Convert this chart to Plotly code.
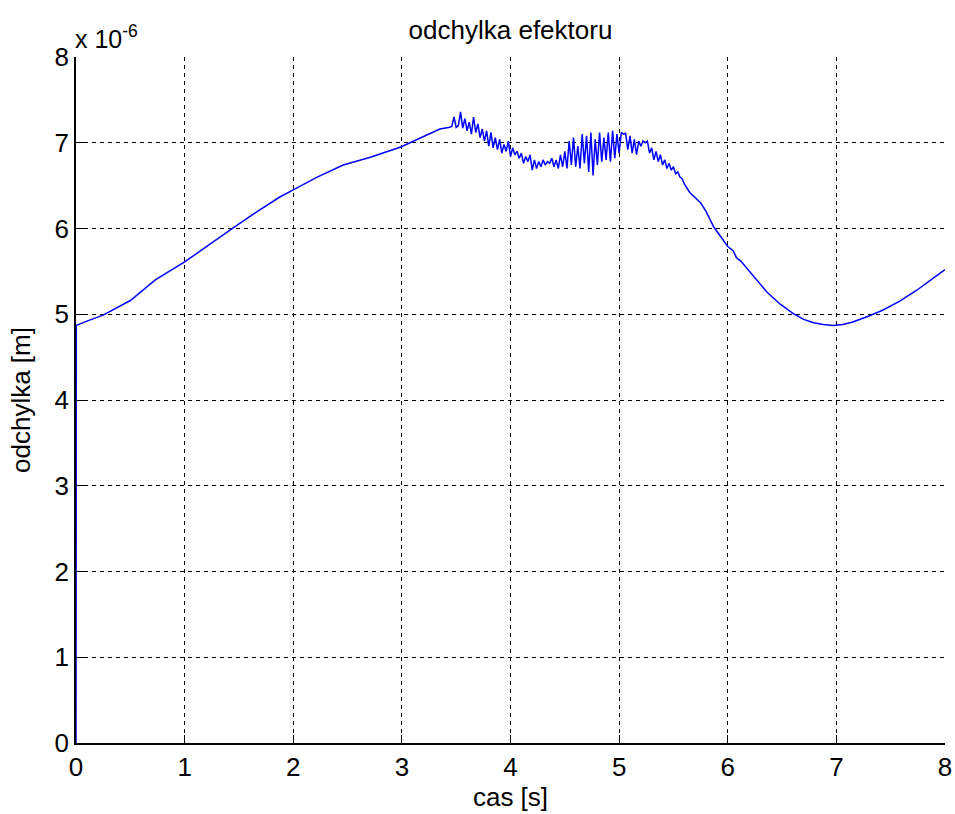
import plotly.graph_objects as go

# time [s] and deviation [x 1e-6 m]
cas_smooth_start = [0.0, 0.003, 0.10, 0.25, 0.50, 0.73, 1.00, 1.23, 1.45, 1.66, 1.88,
                    2.00, 2.22, 2.46, 2.71, 2.99, 3.20, 3.35, 3.44]
odch_smooth_start = [0.0, 4.87, 4.92, 4.99, 5.16, 5.40, 5.61, 5.82, 6.01, 6.19, 6.37,
                     6.45, 6.60, 6.74, 6.83, 6.95, 7.07, 7.16, 7.18]

cas_noisy = [3.46, 3.48, 3.50, 3.52, 3.54, 3.56, 3.58, 3.60, 3.62, 3.64, 3.66, 3.68,
             3.70, 3.72, 3.74, 3.76, 3.78, 3.80, 3.82, 3.84, 3.86, 3.88, 3.90, 3.92,
             3.94, 3.96, 3.98, 4.00, 4.02, 4.04, 4.06, 4.08, 4.10, 4.12, 4.14, 4.16,
             4.18, 4.20, 4.22, 4.24, 4.26, 4.28, 4.30, 4.32, 4.34, 4.36, 4.38, 4.40,
             4.42, 4.44, 4.46, 4.48, 4.50, 4.52, 4.54, 4.56, 4.58, 4.60, 4.62, 4.64,
             4.66, 4.68, 4.70, 4.72, 4.74, 4.76, 4.78, 4.80, 4.82, 4.84, 4.86, 4.88,
             4.90, 4.92, 4.94, 4.96, 4.98, 5.00, 5.02, 5.04, 5.06, 5.08, 5.10, 5.12,
             5.14, 5.16, 5.18, 5.20, 5.22, 5.24, 5.26, 5.28, 5.30, 5.32, 5.34, 5.36,
             5.38, 5.40, 5.42, 5.44, 5.46, 5.48, 5.50, 5.52, 5.54, 5.56, 5.58, 5.60]
odch_noisy = [7.19, 7.30, 7.18, 7.20, 7.36, 7.17, 7.28, 7.14, 7.24, 7.10, 7.30, 7.12,
              7.22, 7.06, 7.16, 7.02, 7.14, 6.96, 7.12, 6.94, 7.06, 6.92, 7.04, 6.88,
              6.98, 6.90, 7.02, 6.84, 6.94, 6.86, 6.90, 6.82, 6.88, 6.76, 6.84, 6.78,
              6.86, 6.68, 6.80, 6.70, 6.78, 6.72, 6.80, 6.74, 6.78, 6.76, 6.82, 6.72,
              6.80, 6.70, 6.86, 6.72, 6.90, 6.70, 7.02, 6.74, 7.06, 6.72, 6.96, 6.70,
              7.10, 6.76, 7.08, 6.66, 7.12, 6.62, 7.04, 6.74, 7.12, 6.78, 7.06, 6.80,
              7.12, 6.78, 7.14, 6.82, 7.10, 6.88, 7.12, 7.10, 7.11, 6.92, 7.08, 6.88,
              7.04, 6.86, 7.02, 6.96, 7.02, 7.00, 7.02, 6.88, 6.94, 6.80, 6.90, 6.78,
              6.86, 6.74, 6.80, 6.70, 6.76, 6.68, 6.72, 6.64, 6.66, 6.60, 6.58, 6.52]

cas_smooth_end = [5.65, 5.75, 5.80, 5.87, 5.93, 6.00, 6.05, 6.08, 6.12, 6.18, 6.27,
                  6.36, 6.48, 6.60, 6.70, 6.79, 6.88, 6.97, 7.06, 7.15, 7.30, 7.43,
                  7.58, 7.74, 7.87, 8.00]
odch_smooth_end = [6.42, 6.30, 6.20, 6.02, 5.92, 5.79, 5.74, 5.66, 5.62, 5.53, 5.40,
                   5.26, 5.12, 5.01, 4.94, 4.90, 4.88, 4.87, 4.88, 4.91, 4.98, 5.05,
                   5.15, 5.28, 5.40, 5.52]

x_ticks = [0, 1, 2, 3, 4, 5, 6, 7, 8]
y_ticks = [0, 1, 2, 3, 4, 5, 6, 7, 8]

cas = cas_smooth_start + cas_noisy + cas_smooth_end
odchylka = odch_smooth_start + odch_noisy + odch_smooth_end

FONT = "Liberation Sans, Arial, sans-serif"
FS = 26

fig = go.Figure()
fig.add_trace(go.Scatter(x=cas, y=odchylka, mode="lines",
                         line=dict(color="#0000FF", width=1.5),
                         showlegend=False, hoverinfo="x+y"))

axis_common = dict(
    showgrid=True, gridcolor="black", gridwidth=1, griddash="4px,4px",
    showline=True, linecolor="black", linewidth=1.5, mirror=False,
    ticks="inside", ticklen=8, tickcolor="black", tickwidth=1,
    zeroline=False, tickfont=dict(family=FONT, size=FS, color="black"),
)

fig.update_xaxes(range=[0, 8], tickvals=x_ticks, ticktext=[str(v) for v in x_ticks],
                 title=dict(text="cas [s]", font=dict(family=FONT, size=FS, color="black"),
                            standoff=4),
                 **axis_common)
fig.update_yaxes(range=[0, 8], tickvals=y_ticks, ticktext=[str(v) for v in y_ticks],
                 title=dict(text="odchylka [m]", font=dict(family=FONT, size=FS, color="black"),
                            standoff=16),
                 **axis_common)

fig.add_annotation(xref="paper", yref="paper", x=0, y=1, xanchor="left", yanchor="bottom",
                   yshift=2, xshift=-3, showarrow=False,
                   text="x 10<sup>-6</sup>",
                   font=dict(family=FONT, size=25, color="black"))

fig.update_layout(
    width=955, height=814,
    margin=dict(l=76, r=10, t=57, b=71, autoexpand=False),
    paper_bgcolor="white", plot_bgcolor="white",
    title=dict(text="odchylka efektoru", x=0.5, xref="paper", xanchor="center",
               y=1 - 30 / 814, yanchor="middle", yref="container",
               font=dict(family=FONT, size=FS, color="black")),
)

fig.write_html(
    "out.html",
    config={"displayModeBar": False},
    post_script="document.body.style.margin='0';"
                "document.documentElement.style.overflow='hidden';",
)
